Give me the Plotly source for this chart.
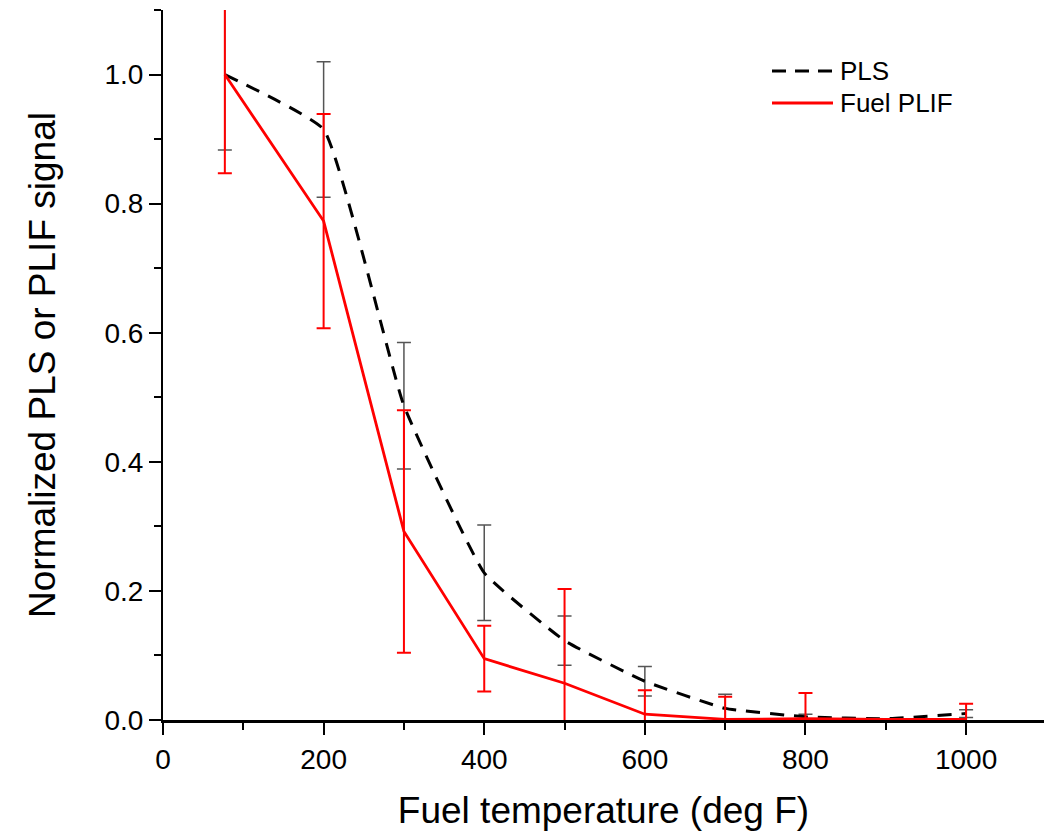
import plotly.graph_objects as go

temps = [77, 200, 300, 400, 500, 600, 700, 800, 900, 1000]
pls = [1.0, 0.915, 0.487, 0.228, 0.123, 0.060, 0.018, 0.005, 0.002, 0.010]
pls_err = [0.117, 0.105, 0.098, 0.074, 0.038, 0.023, 0.022, 0.004, 0.0, 0.006]
plif = [1.0, 0.773, 0.292, 0.095, 0.057, 0.009, 0.001, 0.002, 0.001, 0.001]
plif_err = [0.153, 0.166, 0.188, 0.051, 0.146, 0.037, 0.035, 0.040, 0.0, 0.024]
legend_names = ["PLS", "Fuel PLIF"]

font_family = "Liberation Sans, Arial, sans-serif"
PLS_DASH = "14px,10px"

fig = go.Figure()
fig.add_trace(go.Scatter(
    x=temps, y=pls, name=legend_names[0], mode="lines", showlegend=False,
    line=dict(color="black", width=3, dash=PLS_DASH, shape="spline", smoothing=0.35),
    error_y=dict(type="data", array=pls_err, visible=True, color="#555555", thickness=1.5, width=7),
))
fig.add_trace(go.Scatter(
    x=temps, y=plif, name=legend_names[1], mode="lines", showlegend=False,
    line=dict(color="#ff0000", width=2.8),
    error_y=dict(type="data", array=plif_err, visible=True, color="#ff0000", thickness=2, width=7),
))

# manual legend (paper coordinates)
L, T, PW, PH = 163, 10, 881, 710
def px(x):
    return (x - L) / PW
def py(y):
    return (T + PH - y) / PH

legend_rows = [(71, dict(color="black", width=3, dash="14px,9px")), (103, dict(color="#ff0000", width=2.8))]
for (yy, ln), name in zip(legend_rows, legend_names):
    fig.add_shape(type="line", xref="paper", yref="paper",
                  x0=px(772), x1=px(833), y0=py(yy), y1=py(yy), line=ln)
    fig.add_annotation(xref="paper", yref="paper", x=px(838), y=py(yy),
                       xanchor="left", yanchor="middle", text=name, showarrow=False,
                       font=dict(size=26, family=font_family, color="black"))

fig.update_layout(
    width=1044, height=835,
    margin=dict(l=L, r=0, t=T, b=115),
    paper_bgcolor="white", plot_bgcolor="white",
    font=dict(family=font_family, color="black", size=28),
    showlegend=False,
)
fig.update_xaxes(
    range=[0, 1097], showline=True, linecolor="black", linewidth=3,
    ticks="outside", ticklen=12, tickwidth=2, tickcolor="black",
    tickvals=[0, 200, 400, 600, 800, 1000],
    minor=dict(ticks="outside", ticklen=7, tickwidth=2, tickcolor="black", tickvals=[100, 300, 500, 700, 900]),
    showgrid=False, zeroline=False,
    tickfont=dict(size=28),
    title=dict(text="Fuel temperature (deg F)", font=dict(size=37), standoff=24),
)
fig.update_yaxes(
    range=[0, 1.1], showline=True, linecolor="black", linewidth=2,
    ticks="outside", ticklen=12, tickwidth=2, tickcolor="black",
    tickvals=[0, 0.2, 0.4, 0.6, 0.8, 1.0], tickformat=".1f",
    minor=dict(ticks="outside", ticklen=7, tickwidth=2, tickcolor="black", tickvals=[0.1, 0.3, 0.5, 0.7, 0.9, 1.1]),
    showgrid=False, zeroline=False,
    tickfont=dict(size=28),
    title=dict(text="Normalized PLS or PLIF signal", font=dict(size=37), standoff=38),
)

fig.write_html("out.html")
